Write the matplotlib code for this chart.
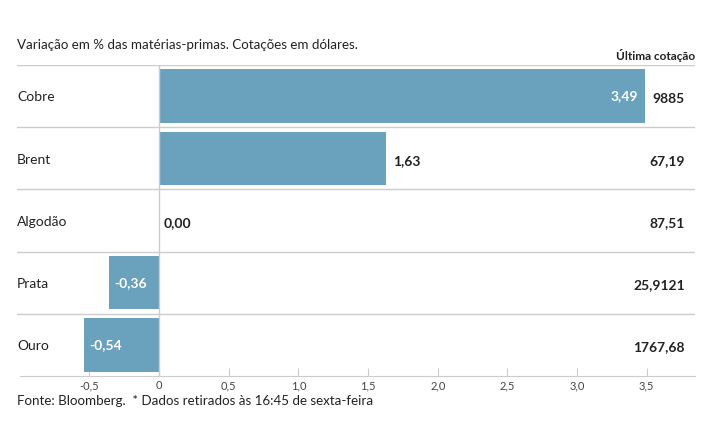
import matplotlib.pyplot as plt

plt.rcParams["font.family"] = ["Lato", "DejaVu Sans"]

# dados
materias = ["Cobre", "Brent", "Algodão", "Prata", "Ouro"]
variacao = [3.49, 1.63, 0.00, -0.36, -0.54]
cotacao = ["9885", "67,19", "87,51", "25,9121", "1767,68"]
ticks = [-0.5, 0, 0.5, 1.0, 1.5, 2.0, 2.5, 3.0, 3.5]
tick_labels = ["-0,5", "0", "0,5", "1,0", "1,5", "2,0", "2,5", "3,0", "3,5"]

cor_barra = "#6aa2be"
cor_linha = "#cccccc"
cor_texto = "#222222"

fig = plt.figure(figsize=(7.15, 4.45), dpi=100)
ax = fig.add_axes([0.0238, 0.155, 0.948, 0.699])

pos = list(range(len(materias)))
ax.barh(pos, variacao, height=0.86, color=cor_barra, zorder=2)

ax.set_xlim(-1.019, 3.845)
ax.set_ylim(4.5, -0.5)

# linhas separadoras das linhas
for y in [-0.5, 0.5, 1.5, 2.5, 3.5]:
    ax.axhline(y, color=cor_linha, lw=1, zorder=1)
ax.axvline(0, color=cor_linha, lw=1, zorder=3)

for s in ["top", "right", "left"]:
    ax.spines[s].set_visible(False)
ax.spines["bottom"].set_color(cor_linha)
ax.spines["bottom"].set_bounds(-0.997, 3.845)

ax.set_yticks([])
ax.set_xticks(ticks)
ax.set_xticklabels(tick_labels, fontsize=8, color="#444444")
ax.tick_params(axis="x", direction="in", length=6, color=cor_linha, pad=3)

# nomes e valores
for i, nome in enumerate(materias):
    ax.text(0.0, i + 0.02, nome, transform=ax.get_yaxis_transform(), ha="left",
            va="center", fontsize=10, color=cor_texto)
    ax.text(0.985, i + 0.04, cotacao[i], transform=ax.get_yaxis_transform(),
            ha="right", va="center", fontsize=10, fontweight="bold", color=cor_texto)

    v = variacao[i]
    rotulo = f"{v:.2f}".replace(".", ",")
    if v > 2:
        ax.text(v - 0.05, i, rotulo, ha="right", va="center", fontsize=10,
                fontweight="bold", color="white", zorder=4)
    elif v > 0:
        ax.text(v + 0.05, i + 0.04, rotulo, ha="left", va="center", fontsize=10,
                fontweight="bold", color=cor_texto, zorder=4)
    elif v == 0:
        ax.text(0.03, i + 0.04, rotulo, ha="left", va="center", fontsize=10,
                fontweight="bold", color=cor_texto, zorder=4)
    else:
        ax.text(v + 0.04, i, rotulo, ha="left", va="center", fontsize=10,
                fontweight="bold", color="white", zorder=4)

fig.text(0.0238, 1 - 45 / 445, "Variação em % das matérias-primas. Cotações em dólares.",
         ha="left", va="center", fontsize=9.6, color=cor_texto)
fig.text(0.972, 1 - 56 / 445, "Última cotação", ha="right", va="center",
         fontsize=8.5, fontweight="bold", color=cor_texto)
fig.text(0.0238, 1 - 401 / 445, "Fonte: Bloomberg.  * Dados retirados às 16:45 de sexta-feira",
         ha="left", va="center", fontsize=9.6, color=cor_texto)

fig.savefig("out.png", dpi=100)
